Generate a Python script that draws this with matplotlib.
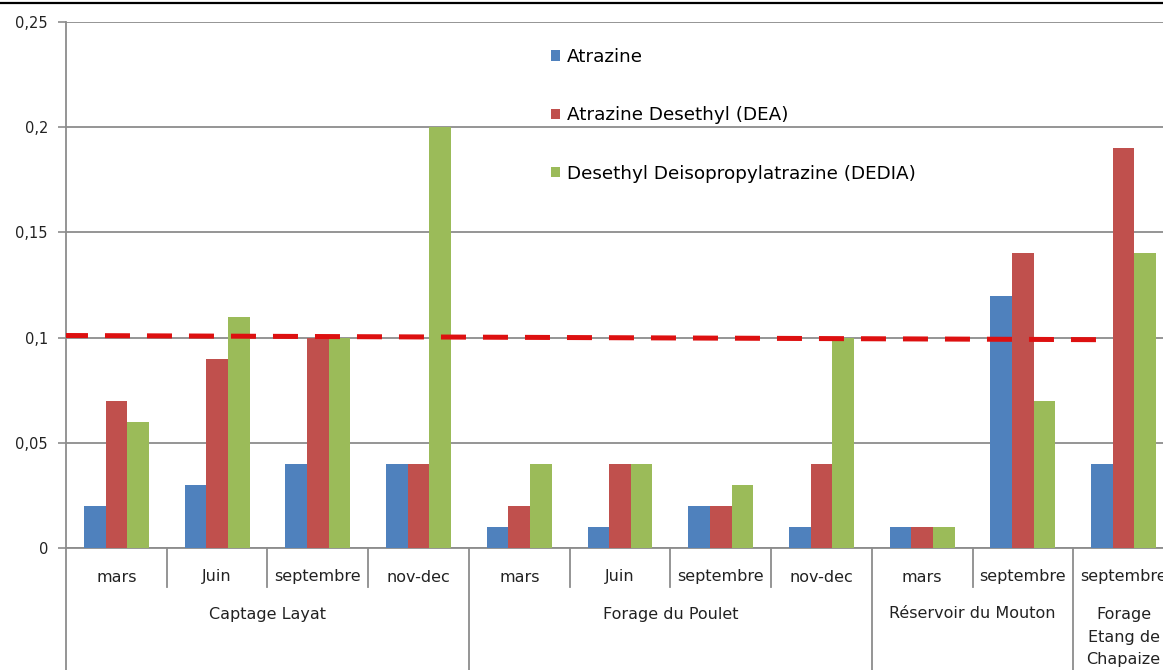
import numpy as np
import matplotlib
matplotlib.use("Agg")
import matplotlib.pyplot as plt
from matplotlib.transforms import blended_transform_factory
from matplotlib.lines import Line2D

plt.rcParams['font.family'] = ['DejaVu Sans']

# --- data -------------------------------------------------------------
months = ["mars", "Juin", "septembre", "nov-dec",
          "mars", "Juin", "septembre", "nov-dec",
          "mars", "septembre",
          "septembre"]
sites = ["Captage Layat", "Forage du Poulet", "Réservoir du Mouton",
         "Forage\nEtang de\nChapaize"]
site_sizes = [4, 4, 2, 1]

series_names = ["Atrazine", "Atrazine Desethyl (DEA)",
                "Desethyl Deisopropylatrazine (DEDIA)"]
atrazine = [0.02, 0.03, 0.04, 0.04, 0.01, 0.01, 0.02, 0.01, 0.01, 0.12, 0.04]
dea      = [0.07, 0.09, 0.10, 0.04, 0.02, 0.04, 0.02, 0.04, 0.01, 0.14, 0.19]
dedia    = [0.06, 0.11, 0.10, 0.20, 0.04, 0.04, 0.03, 0.10, 0.01, 0.07, 0.14]

# hand-drawn threshold line (start / end level)
threshold_start = 0.101
threshold_end = 0.099

yticks = [0, 0.05, 0.1, 0.15, 0.2, 0.25]
ytick_labels = ["0", "0,05", "0,1", "0,15", "0,2", "0,25"]

colors = ["#4F81BD", "#C0504D", "#9BBB59"]
grid_gray = "#8C8C8C"
text_col = "#222222"

# --- figure -----------------------------------------------------------
W, H = 1163, 670
fig = plt.figure(figsize=(W / 100, H / 100), dpi=100)
left_px, right_px, zero_px, top_px = 66, 1174, 548, 22
ax = fig.add_axes([left_px / W, (H - zero_px) / H,
                   (right_px - left_px) / W, (zero_px - top_px) / H])

n = len(months)
x = np.arange(n)
bw = 0.215
for k, (vals, c, name) in enumerate(zip([atrazine, dea, dedia], colors, series_names)):
    ax.bar(x + (k - 1) * bw, vals, width=bw, color=c, label=name, zorder=3)

ax.set_xlim(-0.5, n - 0.5)
ax.set_ylim(0, 0.25)
ax.set_yticks(yticks)
ax.set_yticklabels(ytick_labels, fontsize=10.5, color=text_col)
ax.tick_params(axis="y", length=6, width=1.2, color=grid_gray, pad=7)
ax.set_xticks([])
ax.grid(axis="y", color=grid_gray, linewidth=1.3, zorder=0)
ax.set_axisbelow(True)
for s in ["top", "right"]:
    ax.spines[s].set_visible(False)
for s in ["left", "bottom"]:
    ax.spines[s].set_color(grid_gray)
    ax.spines[s].set_linewidth(1.3)

# threshold line
ax.plot([-0.53, 9.82], [threshold_start, threshold_end], color="#DD1010",
        linewidth=3.6, dashes=(5, 3.4), zorder=5, solid_capstyle="butt")

# legend
ax.legend(loc="upper left", bbox_to_anchor=((542 - left_px) / (right_px - left_px), 0.968),
          frameon=False, fontsize=13.2, labelspacing=2.2, handlelength=0.5,
          handleheight=0.5, handletextpad=0.35, borderpad=0)

# --- multi-level category axis ----------------------------------------
tr = blended_transform_factory(ax.transData, ax.transAxes)
plot_h = zero_px - top_px
def ay(py):
    return (zero_px - py) / plot_h

# month labels
for i, m in enumerate(months):
    ax.text(i, ay(577), m, transform=tr, ha="center", va="center",
            fontsize=11.5, color=text_col, clip_on=False)

# separators
group_edges = np.cumsum([0] + site_sizes) - 0.5
for b in range(1, n + 1):
    xb = b - 0.5
    bottom = ay(H) if np.any(np.isclose(group_edges, xb)) else ay(587)
    ax.add_line(Line2D([xb, xb], [0, bottom], transform=tr, color=grid_gray,
                       linewidth=1.3, clip_on=False))
ax.add_line(Line2D([-0.5, -0.5], [0, ay(H)], transform=tr, color=grid_gray,
                   linewidth=1.3, clip_on=False))

# site labels
for s, (name, size) in enumerate(zip(sites, site_sizes)):
    center = (group_edges[s] + group_edges[s + 1]) / 2
    if "\n" in name:
        ax.text(center, ay(607), name, transform=tr, ha="center", va="top",
                fontsize=11.5, color=text_col, clip_on=False, linespacing=1.63)
    else:
        ax.text(center, ay(614), name, transform=tr, ha="center", va="center",
                fontsize=11.5, color=text_col, clip_on=False)

# top border
fig.add_artist(Line2D([0, 1], [1 - 2.5 / H, 1 - 2.5 / H], transform=fig.transFigure,
                      color="black", linewidth=1.6))

fig.savefig("out.png", dpi=100, facecolor="white")
